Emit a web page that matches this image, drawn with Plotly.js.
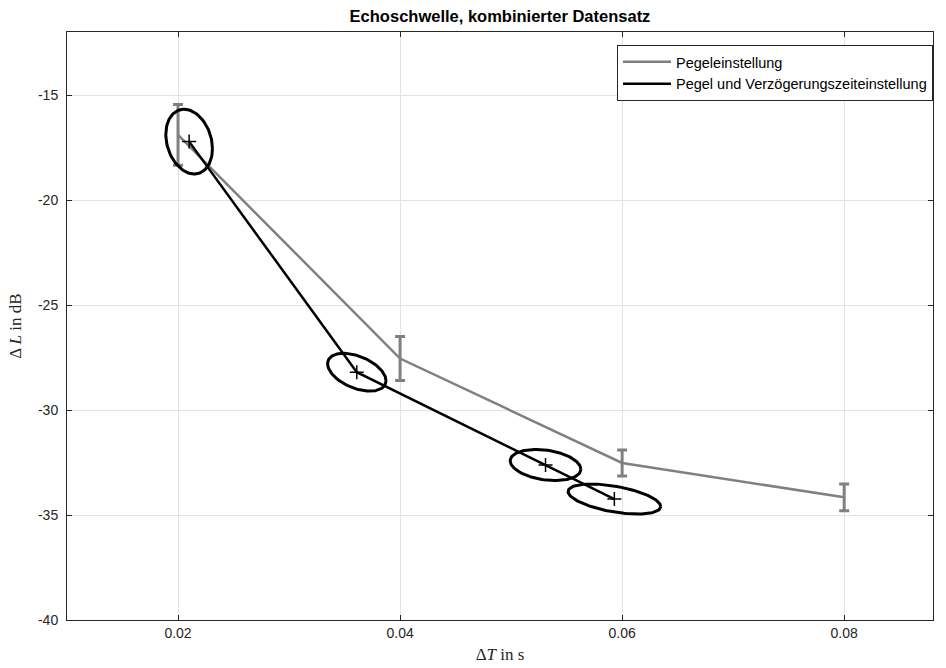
<!DOCTYPE html>
<html>
<head>
<meta charset="utf-8">
<script src="https://cdn.plot.ly/plotly-3.0.1.min.js"></script>
<style>html,body{margin:0;padding:0;background:#fff;}#chart{width:946px;height:668px;}</style>
</head>
<body>
<div id="chart"></div>
<script>
// Series 1: Pegeleinstellung (mean with error bars)
const pegelX = [0.02, 0.04, 0.06, 0.08];
const pegelY = [-16.9, -27.55, -32.52, -34.16];
const pegelErr = [1.45, 1.05, 0.62, 0.64];

// Series 2: Pegel und Verzögerungszeiteinstellung (points with ellipses)
const kombiX = [0.0210, 0.0361, 0.0531, 0.0593];
const kombiY = [-17.22, -28.2, -32.62, -34.24];
// ellipse half-extents (data units) and correlation
const ellSx = [0.0021, 0.00263, 0.00318, 0.00417];
const ellSy = [1.54, 0.90, 0.74, 0.714];
const ellRho = [-0.22, -0.45, -0.27, -0.5];

const yTicks = [-40, -35, -30, -25, -20, -15];
const yTickText = ['-40', '-35', '-30', '-25', '-20', '-15'];
const xTicks = [0.02, 0.04, 0.06, 0.08];
const xTickText = ['0.02', '0.04', '0.06', '0.08'];

const grey = '#808080';
const traces = [];

traces.push({
  x: pegelX, y: pegelY, type: 'scatter', mode: 'lines',
  name: 'Pegeleinstellung',
  line: {color: grey, width: 2.5},
  error_y: {type: 'data', array: pegelErr, visible: true, color: grey, thickness: 3, width: 5}
});

traces.push({
  x: kombiX, y: kombiY, type: 'scatter', mode: 'lines',
  name: 'Pegel und Verzögerungszeiteinstellung',
  line: {color: '#000000', width: 2.5}
});

traces.push({
  x: kombiX, y: kombiY, type: 'scatter', mode: 'markers', showlegend: false, hoverinfo: 'skip',
  marker: {symbol: 'cross-thin', size: 10, color: '#000', line: {color: '#000', width: 1.5}}
});

for (let i = 0; i < kombiX.length; i++) {
  const ex = [], ey = [];
  const n = 120;
  for (let k = 0; k <= n; k++) {
    const t = 2 * Math.PI * k / n;
    ex.push(kombiX[i] + ellSx[i] * Math.cos(t));
    ey.push(kombiY[i] + ellSy[i] * (ellRho[i] * Math.cos(t) + Math.sqrt(1 - ellRho[i] * ellRho[i]) * Math.sin(t)));
  }
  traces.push({x: ex, y: ey, type: 'scatter', mode: 'lines', showlegend: false, hoverinfo: 'skip',
    line: {color: '#000', width: 3}});
}

const axisCommon = {
  showline: true, linecolor: '#262626', linewidth: 1, mirror: 'ticks',
  ticks: 'inside', ticklen: 5, tickcolor: '#262626', tickwidth: 1,
  showgrid: true, gridcolor: '#e3e3e3', gridwidth: 1, zeroline: false,
  tickfont: {family: 'Liberation Sans, Arial, sans-serif', size: 14, color: '#262626'}
};

const layout = {
  width: 946, height: 668,
  margin: {l: 67, r: 13, t: 32, b: 48},
  paper_bgcolor: '#fff', plot_bgcolor: '#fff',
  title: {text: '<b>Echoschwelle, kombinierter Datensatz</b>', xref: 'paper', x: 0.5, xanchor: 'center', y: 0.975, yanchor: 'middle',
    font: {family: 'Liberation Sans, Arial, sans-serif', size: 16.5, color: '#000'}},
  xaxis: Object.assign({}, axisCommon, {
    range: [0.01, 0.088], tickvals: xTicks, ticktext: xTickText,
    title: {text: 'Δ<i>T</i> in s', standoff: 8, font: {family: 'Liberation Serif, serif', size: 17, color: '#262626'}}
  }),
  yaxis: Object.assign({}, axisCommon, {
    range: [-40, -12], tickvals: yTicks, ticktext: yTickText, ticklabelstandoff: 5,
    title: {text: 'Δ <i>L</i> in dB', standoff: 12, font: {family: 'Liberation Serif, serif', size: 17, color: '#262626'}}
  }),
  legend: {x: 1, xanchor: 'right', y: 0.978, yanchor: 'top', bgcolor: '#fff', bordercolor: '#262626', borderwidth: 1,
    itemwidth: 48,
    font: {family: 'Liberation Sans, Arial, sans-serif', size: 14.5, color: '#000'}, tracegroupgap: 0},
  showlegend: true
};

Plotly.newPlot('chart', traces, layout, {displayModeBar: false, staticPlot: true});
</script>
</body>
</html>
